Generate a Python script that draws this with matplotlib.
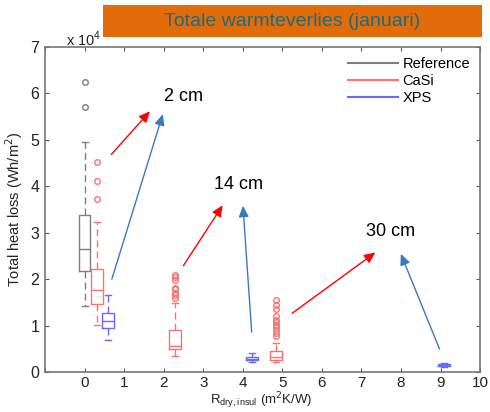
import matplotlib
matplotlib.use("Agg")
import matplotlib.pyplot as plt
from matplotlib.patches import Rectangle
from matplotlib.ticker import FuncFormatter, MultipleLocator

# ---- data (Wh/m2) ----
positions = [0.0, 0.32, 0.6, 2.29, 4.23, 4.85, 9.09]
groups = ["Reference", "CaSi", "XPS", "CaSi", "XPS", "CaSi", "XPS"]
q1 = [21700, 14700, 9500, 5000, 2650, 2600, 1250]
med = [26500, 17600, 11000, 5700, 2900, 3300, 1450]
q3 = [33800, 22200, 12700, 9000, 3150, 4600, 1650]
wlo = [14300, 10200, 6900, 3500, 2200, 2100, 1000]
whi = [49500, 32300, 16500, 14800, 4000, 6200, 1900]
fliers = [
    [57000, 62500],
    [37200, 41200, 45300],
    [],
    [16000, 16500, 17000, 17800, 18200, 19800, 20500, 21000],
    [],
    [7800, 8500, 9000, 9800, 10200, 10700, 11200, 12000, 13500, 14500, 15500],
    [],
]
legend_labels = ["Reference", "CaSi", "XPS"]
annot_labels = ["2 cm", "14 cm", "30 cm"]
annot_pos = [(2.0, 59300), (3.28, 40300), (7.11, 30200)]
red_arrows = [((0.63, 46400), (1.70, 56600)), ((2.46, 22400), (3.53, 36400)), ((5.19, 12300), (7.41, 26100))]
blue_arrows = [((0.67, 19450), (2.0, 56100)), ((4.23, 8000), (4.00, 36400)), ((9.0, 4400), (7.97, 26000))]

colors = {"Reference": "#7f7f7f", "CaSi": "#ff7070", "XPS": "#6a6aff"}

fig = plt.figure(figsize=(4.9, 4.12), dpi=100)
fig.patch.set_facecolor("white")

# title banner
fig.patches.append(Rectangle((0.21, 0.910), 0.774, 0.078, transform=fig.transFigure,
                             facecolor="#E36C0A", edgecolor="none", zorder=0))
fig.text(0.597, 0.949, "Totale warmteverlies (januari)", ha="center", va="center",
         fontsize=14, color="#1F6B7A", family="Liberation Sans")

ax = fig.add_axes([0.0918, 0.097, 0.888, 0.789])

for i, p in enumerate(positions):
    c = colors[groups[i]]
    stats = [dict(med=med[i], q1=q1[i], q3=q3[i], whislo=wlo[i], whishi=whi[i], fliers=fliers[i])]
    ax.bxp(stats, positions=[p], widths=0.3, showfliers=True, manage_ticks=False,
           boxprops=dict(color=c, lw=1.0),
           medianprops=dict(color=c, lw=1.0),
           whiskerprops=dict(color=c, lw=1.0, linestyle=(0, (5, 3))),
           capprops=dict(color=c, lw=1.0),
           capwidths=0.15,
           flierprops=dict(marker="o", markersize=4, markerfacecolor="none",
                           markeredgecolor=c, markeredgewidth=1.0))

# legend proxies
for lab in legend_labels:
    ax.plot([], [], color=colors[lab], lw=1.5, label=lab)
leg = ax.legend(loc="upper right", frameon=False, fontsize=10.5, handlelength=3.4,
                handletextpad=0.3, labelspacing=0.2, borderaxespad=0.3)
for t in leg.get_texts():
    t.set_family("Liberation Sans")

for (t, h) in red_arrows:
    ax.annotate("", xy=h, xytext=t,
                arrowprops=dict(arrowstyle="-|>,head_length=0.55,head_width=0.25",
                                color="red", lw=1.0, mutation_scale=12))
for (t, h) in blue_arrows:
    ax.annotate("", xy=h, xytext=t,
                arrowprops=dict(arrowstyle="-|>,head_length=0.55,head_width=0.25",
                                color="#3A78C2", lw=1.0, mutation_scale=12))
for lab, (x, y) in zip(annot_labels, annot_pos):
    ax.text(x, y, lab, fontsize=13, ha="left", va="center", color="black",
            family="Liberation Sans")

ax.set_xlim(-1, 10)
ax.set_ylim(0, 70000)
ax.xaxis.set_major_locator(MultipleLocator(1))
ax.yaxis.set_major_locator(MultipleLocator(10000))
ax.xaxis.set_major_formatter(FuncFormatter(lambda v, p: "" if v < 0 else f"{int(round(v))}"))
ax.yaxis.set_major_formatter(FuncFormatter(lambda v, p: f"{int(round(v / 10000))}"))
ax.tick_params(direction="in", top=True, right=True, length=3, color="#555555",
               labelsize=11.5, labelcolor="#222222", pad=4)
ax.tick_params(axis="x", pad=2.5, labelsize=11)
for s in ax.spines.values():
    s.set_color("#777777")
    s.set_linewidth(1.2)
for t in ax.get_xticklabels() + ax.get_yticklabels():
    t.set_family("Liberation Sans")

ax.set_ylabel("Total heat loss (Wh/m$^2$)", fontsize=10.5, family="Liberation Sans",
              color="#222222", labelpad=4)
ax.set_xlabel(r"R$_{\mathregular{dry,insul}}$ (m$^2$K/W)", fontsize=9.5,
              family="Liberation Sans", color="#222222")
ax.xaxis.set_label_coords(0.497, -0.056)
fig.text(0.135, 0.905, r"x 10$^{\mathregular{4}}$", fontsize=10.5, family="Liberation Sans",
         color="#222222", ha="left", va="center")

fig.savefig("out.png", dpi=100)
